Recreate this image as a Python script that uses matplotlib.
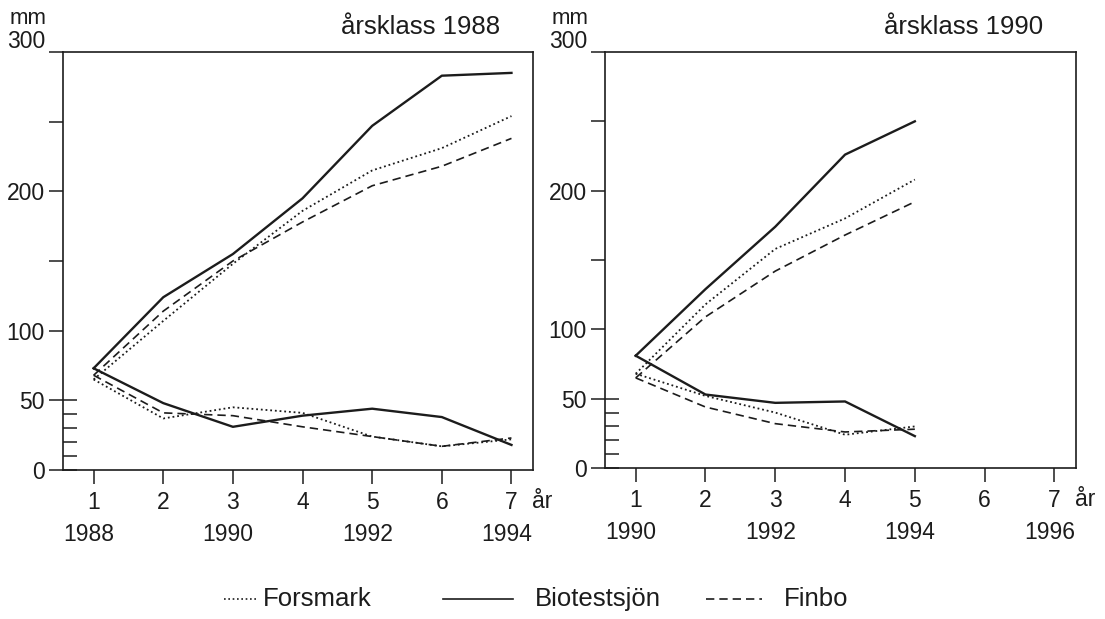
import matplotlib
matplotlib.use("Agg")
from matplotlib import pyplot as plt
from matplotlib.lines import Line2D

plt.rcParams['font.family'] = ['Liberation Sans', 'DejaVu Sans']

# age (år) on x axis, values in mm
ages_88 = [1, 2, 3, 4, 5, 6, 7]
years_88 = ['1988', '1990', '1992', '1994']
bio_len_88 = [73, 124, 155, 195, 247, 283, 285]
for_len_88 = [65, 107, 148, 186, 215, 231, 254]
fin_len_88 = [68, 114, 150, 178, 204, 218, 238]
bio_inc_88 = [73, 48, 31, 39, 44, 38, 18]
for_inc_88 = [65, 37, 45, 41, 24, 17, 22]
fin_inc_88 = [68, 41, 39, 31, 24, 17, 23]

ages_90 = [1, 2, 3, 4, 5]
years_90 = ['1990', '1992', '1994', '1996']
bio_len_90 = [81, 129, 174, 226, 250]
for_len_90 = [68, 118, 158, 180, 208]
fin_len_90 = [65, 109, 142, 168, 192]
bio_inc_90 = [81, 53, 47, 48, 23]
for_inc_90 = [68, 52, 40, 24, 30]
fin_inc_90 = [65, 44, 32, 26, 28]

col = '#1c1c1c'
styles = {
    'Forsmark': dict(ls=(0, (1, 1.6)), lw=1.3),
    'Biotestsjön': dict(ls='-', lw=1.7),
    'Finbo': dict(ls=(0, (5, 3)), lw=1.2),
}
fs = 16.5

fig = plt.figure(figsize=(11.05, 6.19), dpi=100)
ax1 = fig.add_axes([0.057, 0.2407, 0.4254, 0.6753])
ax2 = fig.add_axes([0.5475, 0.2439, 0.4263, 0.6721])


def setup(ax, title, years):
    ax.set_xlim(0.56, 7.31)
    ax.set_ylim(0, 300)
    for s in ax.spines.values():
        s.set_linewidth(1.2)
        s.set_color(col)
    ax.set_xticks(range(1, 8))
    ax.set_yticks([0, 50, 100, 150, 200, 250, 300])
    ax.set_yticklabels(['0', '50', '100', '', '200', '', ''])
    ax.set_yticks([0, 10, 20, 30, 40, 50], minor=True)
    ax.yaxis.remove_overlapping_locs = False
    ax.tick_params(axis='both', which='major', direction='out', length=10,
                   width=1.1, color=col, labelsize=fs, labelcolor=col)
    ax.tick_params(axis='x', pad=5)
    ax.tick_params(axis='y', pad=3)
    ax.tick_params(axis='y', which='minor', direction='in', length=10,
                   width=1.1, color=col)
    for i, y in enumerate(years):
        ax.text(1 + 2 * i - 0.07, -0.155, y, transform=ax.get_xaxis_transform(),
                ha='center', va='center', fontsize=fs, color=col)
    ax.text(7.3, -0.075, 'år', transform=ax.get_xaxis_transform(),
            ha='left', va='center', fontsize=fs, color=col)
    ax.text(-0.038, 1.025, '300', transform=ax.transAxes, ha='right',
            va='center', fontsize=fs, color=col)
    ax.text(-0.113, 1.08, 'mm', transform=ax.transAxes, ha='left',
            va='center', fontsize=fs - 0.5, color=col)
    ax.text(0.93, 1.06, title, transform=ax.transAxes, ha='right',
            va='center', fontsize=18.5, color=col)


setup(ax1, 'årsklass 1988', years_88)
setup(ax2, 'årsklass 1990', years_90)

ax1.plot(ages_88, for_len_88, color=col, **styles['Forsmark'])
ax1.plot(ages_88, bio_len_88, color=col, **styles['Biotestsjön'])
ax1.plot(ages_88, fin_len_88, color=col, **styles['Finbo'])
ax1.plot(ages_88, for_inc_88, color=col, **styles['Forsmark'])
ax1.plot(ages_88, bio_inc_88, color=col, **styles['Biotestsjön'])
ax1.plot(ages_88, fin_inc_88, color=col, **styles['Finbo'])

ax2.plot(ages_90, for_len_90, color=col, **styles['Forsmark'])
ax2.plot(ages_90, bio_len_90, color=col, **styles['Biotestsjön'])
ax2.plot(ages_90, fin_len_90, color=col, **styles['Finbo'])
ax2.plot(ages_90, for_inc_90, color=col, **styles['Forsmark'])
ax2.plot(ages_90, bio_inc_90, color=col, **styles['Biotestsjön'])
ax2.plot(ages_90, fin_inc_90, color=col, **styles['Finbo'])

# legend drawn by hand: samples have different lengths in the original
leg = [('Forsmark', 224, 256, 263), ('Biotestsjön', 443, 513, 535), ('Finbo', 706, 762, 784)]
W, H = 1105, 619
ly = 1 - 599 / H
for name, x0, x1, xt in leg:
    st = styles[name]
    fig.add_artist(Line2D([x0 / W, x1 / W], [ly, ly], color=col,
                          ls=st['ls'], lw=min(st['lw'], 1.2)))
    fig.text(xt / W, ly, name, ha='left', va='center', fontsize=18.5, color=col)

fig.savefig('out.png', dpi=100)
